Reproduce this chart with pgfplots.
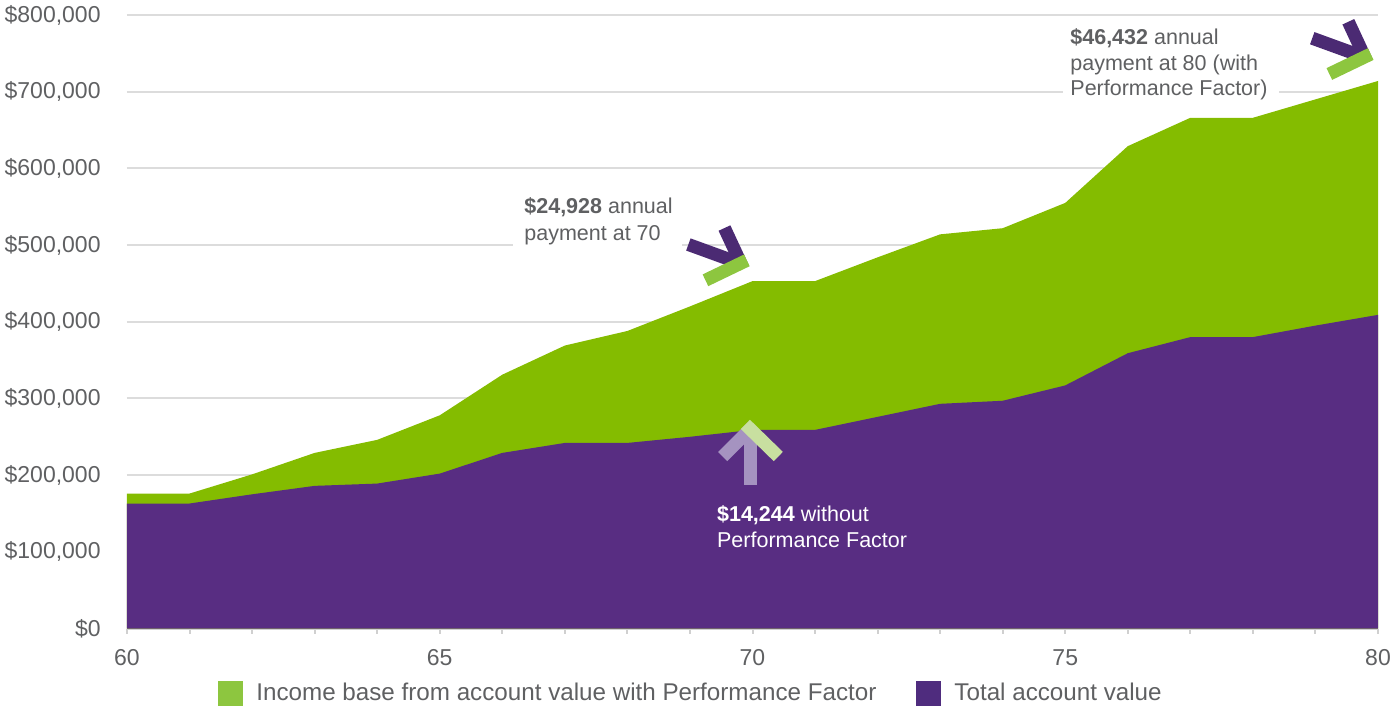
\documentclass[border=0pt]{standalone}
\usepackage{pgfplots}
\pgfplotsset{compat=1.18}
\usepackage{fontspec}
\setmainfont{Liberation Sans}
\definecolor{areagreen}{HTML}{84BC00}
\definecolor{areapurple}{HTML}{582D82}
\definecolor{leggreen}{HTML}{8DC63F}
\definecolor{legpurple}{HTML}{4F2C7E}
\definecolor{icpurple}{HTML}{4B2A73}
\definecolor{icgreen}{HTML}{8DC63F}
\definecolor{lightpurple}{HTML}{A593C0}
\definecolor{lightgreen}{HTML}{C8DFA0}
\definecolor{txt}{HTML}{5F6062}
\definecolor{gridc}{HTML}{DCDCDC}
\definecolor{axisc}{HTML}{D0D0D0}

\pgfplotstableread{
age income
60 176000
61 176000
62 201000
63 229000
64 246000
65 278000
66 331000
67 369000
68 388000
69 420000
70 453000
71 453000
72 484000
73 514000
74 522000
75 555000
76 629000
77 666000
78 666000
79 690000
80 714000
}\incometable
\pgfplotstableread{
age total
60 163000
61 163000
62 175000
63 186000
64 189000
65 202000
66 229000
67 242000
68 242000
69 250000
70 259000
71 259000
72 276000
73 293000
74 297000
75 317000
76 359000
77 380000
78 380000
79 395000
80 409000
}\totaltable

\newcommand{\arrowicon}[4]{%
  \begin{scope}[shift={(#1)}, rotate=#2, x=1pt, y=1pt]
    \draw[#3, line width=6.5pt, line cap=butt] (-13.9,-13.85) -- (1,1);
    \draw[#3, line width=6.5pt, line cap=butt] (0,-28) -- (0,-1);
    \draw[#4, line width=6.5pt, line cap=butt] (-2.55,2.2) -- (13.9,-13.85);
  \end{scope}}

\newcommand{\annfont}{\fontsize{10.75}{13}\selectfont}

\begin{document}
\begin{tikzpicture}
\begin{axis}[
  scale only axis, width=625.5pt, height=306.75pt,
  xmin=60, xmax=80, ymin=0, ymax=800000,
  clip=false,
  axis x line*=bottom, axis y line*=left,
  x axis line style={draw=axisc, line width=1pt},
  y axis line style={draw=none},
  xtick={60,65,70,75,80}, minor xtick={61,62,63,64,66,67,68,69,71,72,73,74,76,77,78,79},
  xticklabels={60,65,70,75,80},
  tick align=outside,
  major tick length=2.5pt, minor tick length=2.5pt,
  xtick style={draw=axisc, line width=1pt},
  minor x tick style={draw=axisc, line width=1pt},
  ytick={0,100000,200000,300000,400000,500000,600000,700000,800000},
  yticklabels={{\$0},{\$100,000},{\$200,000},{\$300,000},{\$400,000},{\$500,000},{\$600,000},{\$700,000},{\$800,000}},
  ytick style={draw=none},
  ymajorgrids, major grid style={draw=gridc, line width=1pt},
  tick label style={font=\fontsize{11.5}{13}\selectfont, text=txt},
  xticklabel style={inner sep=0pt, anchor=north, yshift=-7.75pt},
  yticklabel style={inner sep=0pt, anchor=east, xshift=-10.5pt},
  legend columns=2,
  legend cell align=left,
  legend style={at={(axis description cs:0,0)}, anchor=west, xshift=45.5pt, yshift=-32.5pt,
    draw=none, fill=none, inner sep=0pt, font=\fontsize{12.1}{14}\selectfont, text=txt,
    /tikz/every odd column/.append style={column sep=4.5pt},
    /tikz/every even column/.append style={column sep=18pt}},
  legend image code/.code={\fill[#1] (0pt,-6.25pt) rectangle (12.5pt,6.25pt);},
]
\addlegendimage{fill=leggreen, draw=none}
\addlegendentry{Income base from account value with Performance Factor}
\addlegendimage{fill=legpurple, draw=none}
\addlegendentry{Total account value}

\addplot[fill=areagreen, draw=none, forget plot] table[x=age, y=income] {\incometable} \closedcycle;
\addplot[fill=areapurple, draw=none, forget plot] table[x=age, y=total] {\totaltable} \closedcycle;

% annotation at 70
\fill[white] (axis cs:66.171,494100) rectangle (axis cs:68.873,562800);
\node[anchor=base west, inner sep=0pt, font=\annfont, text=txt] at (axis cs:66.347,540700) {\textbf{\$24,928} annual};
\node[anchor=base west, inner sep=0pt, font=\annfont, text=txt] at (axis cs:66.347,505900) {payment at 70};

% annotation at 80
\fill[white] (axis cs:74.964,688600) rectangle (axis cs:78.418,787800);
\node[anchor=base west, inner sep=0pt, font=\annfont, text=txt] at (axis cs:75.076,761800) {\textbf{\$46,432} annual};
\node[anchor=base west, inner sep=0pt, font=\annfont, text=txt] at (axis cs:75.076,728200) {payment at 80 (with};
\node[anchor=base west, inner sep=0pt, font=\annfont, text=txt] at (axis cs:75.076,694800) {Performance Factor)};

% annotation without PF
\node[anchor=base west, inner sep=0pt, font=\annfont, text=white] at (axis cs:69.428,139400) {\textbf{\$14,244} without};
\node[anchor=base west, inner sep=0pt, font=\annfont, text=white] at (axis cs:69.428,106000) {Performance Factor};

\coordinate (IA) at (axis cs:69.968,260400);
\coordinate (IB) at (axis cs:69.816,475800);
\coordinate (IC) at (axis cs:79.79,744800);
\end{axis}
\arrowicon{IA}{0}{lightpurple}{lightgreen}
\arrowicon{IB}{-110}{icpurple}{icgreen}
\arrowicon{IC}{-110}{icpurple}{icgreen}
\pgfresetboundingbox
\path[use as bounding box] (-63.5pt,-40.25pt) rectangle (632.5pt,314.25pt);
\end{tikzpicture}
\end{document}
